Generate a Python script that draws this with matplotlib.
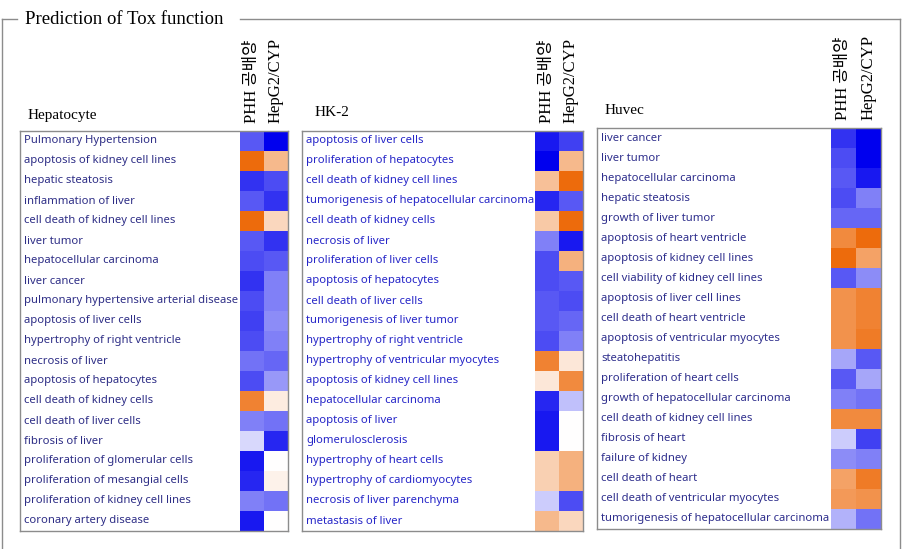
import numpy as np
import matplotlib
matplotlib.use("Agg")
import matplotlib.pyplot as plt
from matplotlib.colors import LinearSegmentedColormap
from matplotlib.lines import Line2D

# 열 이름
columns = ["PHH 공배양", "HepG2/CYP"]

# Hepatocyte
hep_labels = [
    "Pulmonary Hypertension", "apoptosis of kidney cell lines", "hepatic steatosis",
    "inflammation of liver", "cell death of kidney cell lines", "liver tumor",
    "hepatocellular carcinoma", "liver cancer", "pulmonary hypertensive arterial disease",
    "apoptosis of liver cells", "hypertrophy of right ventricle", "necrosis of liver",
    "apoptosis of hepatocytes", "cell death of kidney cells", "cell death of liver cells",
    "fibrosis of liver", "proliferation of glomerular cells", "proliferation of mesangial cells",
    "proliferation of kidney cell lines", "coronary artery disease",
]
hep_phh = [-0.65, 0.95, -0.8, -0.65, 0.95, -0.65, -0.7, -0.8, -0.7, -0.75,
           -0.7, -0.55, -0.7, 0.8, -0.5, -0.15, -0.9, -0.85, -0.5, -0.9]
hep_hepg2 = [-1.0, 0.45, -0.7, -0.8, 0.25, -0.8, -0.65, -0.5, -0.5, -0.45,
             -0.5, -0.6, -0.4, 0.12, -0.55, -0.85, 0.0, 0.08, -0.55, 0.0]

# HK-2
hk2_labels = [
    "apoptosis of liver cells", "proliferation of hepatocytes", "cell death of kidney cell lines",
    "tumorigenesis of hepatocellular carcinoma", "cell death of kidney cells", "necrosis of liver",
    "proliferation of liver cells", "apoptosis of hepatocytes", "cell death of liver cells",
    "tumorigenesis of liver tumor", "hypertrophy of right ventricle",
    "hypertrophy of ventricular myocytes", "apoptosis of kidney cell lines",
    "hepatocellular carcinoma", "apoptosis of liver", "glomerulosclerosis",
    "hypertrophy of heart cells", "hypertrophy of cardiomyocytes",
    "necrosis of liver parenchyma", "metastasis of liver",
]
hk2_phh = [-0.9, -1.0, 0.4, -0.85, 0.35, -0.5, -0.7, -0.7, -0.65, -0.65,
           -0.7, 0.8, 0.15, -0.85, -0.9, -0.9, 0.3, 0.3, -0.2, 0.45]
hk2_hepg2 = [-0.75, 0.45, 0.95, -0.65, 0.95, -0.9, 0.5, -0.65, -0.7, -0.6,
             -0.5, 0.15, 0.75, -0.25, 0.0, 0.0, 0.5, 0.5, -0.7, 0.25]

# Huvec
huv_labels = [
    "liver cancer", "liver tumor", "hepatocellular carcinoma", "hepatic steatosis",
    "growth of liver tumor", "apoptosis of heart ventricle", "apoptosis of kidney cell lines",
    "cell viability of kidney cell lines", "apoptosis of liver cell lines",
    "cell death of heart ventricle", "apoptosis of ventricular myocytes", "steatohepatitis",
    "proliferation of heart cells", "growth of hepatocellular carcinoma",
    "cell death of kidney cell lines", "fibrosis of heart", "failure of kidney",
    "cell death of heart", "cell death of ventricular myocytes",
    "tumorigenesis of hepatocellular carcinoma",
]
huv_phh = [-0.8, -0.7, -0.65, -0.7, -0.6, 0.75, 0.95, -0.65, 0.7, 0.7,
           0.7, -0.35, -0.65, -0.5, 0.75, -0.2, -0.45, 0.6, 0.65, -0.3]
huv_hepg2 = [-1.0, -1.0, -0.9, -0.5, -0.6, 0.95, 0.6, -0.45, 0.8, 0.8,
             0.85, -0.65, -0.35, -0.55, 0.75, -0.75, -0.5, 0.85, 0.7, -0.55]

cmap = LinearSegmentedColormap.from_list(
    "tox", [(0.0, "#0000ee"), (0.5, "#ffffff"), (1.0, "#ec6400")])

W, H = 902, 549
fig = plt.figure(figsize=(W / 100, H / 100), dpi=100)

def fx(x):
    return x / W

def fy(y):
    return 1 - y / H

serif = ["Liberation Serif", "Noto Sans CJK KR"]
sans = ["Noto Sans", "DejaVu Sans"]

# 바깥 테두리
frame_col = "#8c8c8c"
fig.add_artist(Line2D([fx(2), fx(17)], [fy(19), fy(19)], color=frame_col, lw=1))
fig.add_artist(Line2D([fx(240), fx(900)], [fy(19), fy(19)], color=frame_col, lw=1))
fig.add_artist(Line2D([fx(2), fx(2)], [fy(19), fy(549)], color=frame_col, lw=1))
fig.add_artist(Line2D([fx(900), fx(900)], [fy(19), fy(549)], color=frame_col, lw=1))
fig.text(fx(25), fy(19), "Prediction of Tox function", family=serif, fontsize=13.5,
         va="center", ha="left")

panels = [
    # title, labels, phh, hepg2, box(x0, x1, y0, y1), cell_w, text color, title pos
    ("Hepatocyte", hep_labels, hep_phh, hep_hepg2, (20, 288, 131, 531), 24, "#2e2e86", (28, 116)),
    ("HK-2", hk2_labels, hk2_phh, hk2_hepg2, (302, 583, 131, 531), 24, "#2626c8", (315, 113)),
    ("Huvec", huv_labels, huv_phh, huv_hepg2, (597, 881, 128, 529), 25, "#2e2e8c", (605, 110)),
]

for title, labels, phh, hepg2, box, cw, tcol, tpos in panels:
    x0, x1, y0, y1 = box
    ax = fig.add_axes([fx(x0), fy(y1), fx(x1 - x0), (y1 - y0) / H])
    vals = np.column_stack([phh, hepg2])
    n = len(labels)
    left = -(x1 - x0 - 2 * cw) / cw
    ax.pcolormesh(np.arange(3), np.arange(n + 1), vals, cmap=cmap, vmin=-1, vmax=1)
    ax.set_xlim(left, 2)
    ax.set_ylim(n, 0)
    ax.set_xticks([])
    ax.set_yticks([])
    for s in ax.spines.values():
        s.set_color("#8c8c8c")
        s.set_linewidth(1)
    for i, lab in enumerate(labels):
        ax.text(left + 4 / cw, i + 0.5, lab, color=tcol, fontsize=8.1, family=sans,
                va="center", ha="left")
    fig.text(fx(tpos[0]), fy(tpos[1]), title, family=serif, fontsize=11,
             va="center", ha="left")
    x_edge = x1 - 2 * cw
    for j, col in enumerate(columns):
        fig.text(fx(x_edge + cw * (j + 0.5)), fy(y0 - 8), col, family=serif,
                 fontsize=12, rotation=90, ha="center", va="bottom")

fig.savefig("out.png", dpi=100)
